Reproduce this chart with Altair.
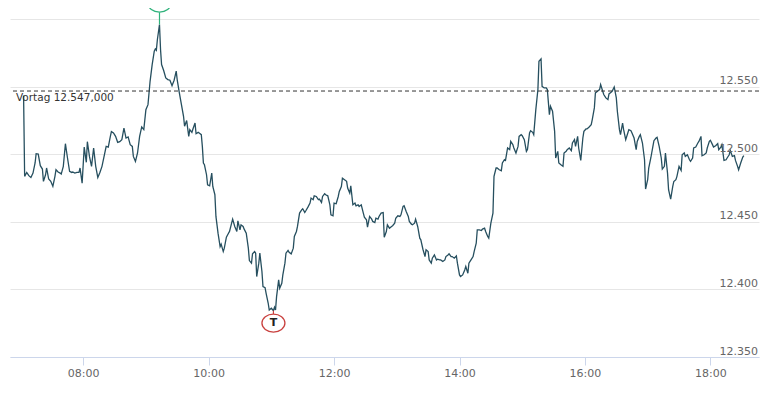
import altair as alt
import pandas as pd

# minutes after 07:00
t_min = [3, 4, 6, 8, 10, 12, 14, 15, 17, 19, 21, 22, 24, 25, 27, 29, 31, 33, 34, 36, 38, 39, 41, 43, 45, 47, 49, 50, 52, 54, 56, 57, 59, 61, 63, 64, 66, 68, 70, 72, 74, 76, 78, 80, 82, 84, 86, 87, 89, 91, 93, 95, 97, 99, 101, 103, 105, 107, 108, 110, 112, 114, 116, 118, 120, 122, 124, 126, 128, 129, 130, 131, 133, 134, 135, 137, 139, 141, 143, 145, 147, 149, 150, 152, 154, 156, 157, 159, 161,
         162, 164, 165, 167, 168, 170, 171, 173, 174, 175, 176, 178, 179, 181, 183, 184, 186, 187, 189, 191, 192, 194, 195, 197, 199, 200, 202, 203, 205, 207, 208, 210, 211, 213, 214, 216, 218, 219, 221, 222, 224, 225, 226, 228, 229, 231, 232, 234, 235, 237, 238, 240, 242, 243, 244, 245, 247, 248, 250, 251, 253, 254, 256, 257, 259, 261, 262, 264, 265, 267, 269, 270, 272, 273, 275, 277, 278, 280, 281, 283, 285, 286, 288, 289, 291, 292, 294, 296, 297, 299, 300, 302, 304, 305, 307, 308, 310, 312, 313, 315, 316, 318, 320, 321, 323, 324, 326, 328, 329, 331, 332,
         334, 336, 337, 339, 340, 342, 343, 345, 347, 348, 350, 351, 353, 355, 356, 358, 359, 361, 363, 364, 366, 367, 369, 371, 372, 374, 375, 377, 378, 380, 382, 383, 385, 387, 388, 390, 391, 393, 394, 396, 398, 399, 401, 402, 404, 406, 407, 409, 410, 412, 413, 415, 417, 418, 420, 421, 423, 425, 426, 428, 429, 431, 433, 434, 436, 437,
         439, 441, 442, 444, 445, 447, 448, 450, 452, 453, 455, 456, 458, 460, 461, 463, 464, 466, 468, 469, 471, 472, 474, 476, 477, 479, 480, 482, 484, 485, 487, 488, 490, 491, 493, 495, 496, 498, 499, 501, 503, 504, 506, 507, 509, 511, 512, 514, 515, 517, 519, 520, 522, 523, 525, 527, 528, 530, 531, 533, 534, 536, 538, 539, 541, 542, 544, 546, 547, 549, 550, 552, 554, 555, 557, 558, 560, 562, 563, 565, 566, 568, 570, 571,
         573, 574, 576, 577, 579, 581, 582, 584, 585, 587, 589, 590, 592, 593, 595, 597, 598, 600, 601, 603, 605, 606, 608, 609, 611, 613, 614, 616, 617, 619, 620, 622, 624, 625, 627, 628, 630, 632, 633, 635, 636, 638, 640, 641, 643, 644, 646, 648, 649, 651, 652, 654, 656, 657, 659, 660, 662, 663, 665, 667, 668, 670, 671, 673, 675, 676, 678, 679, 681, 683, 684, 686, 687, 689, 691, 692]

price = [12543.6, 12483.8, 12486.7, 12484.3, 12483.0, 12486.2, 12493.7, 12500.6, 12500.3, 12491.7, 12489.2, 12480.1, 12485.0, 12490.0, 12481.8, 12480.1, 12476.4, 12483.8, 12488.7, 12487.0, 12486.2, 12485.5, 12491.2, 12508.0, 12497.4, 12487.5, 12486.7, 12487.0, 12486.2, 12486.7, 12486.7, 12490.0, 12478.8, 12505.5, 12494.2, 12509.5, 12498.6, 12491.2, 12504.8, 12491.2, 12483.0, 12486.7, 12491.2, 12498.6, 12506.0, 12505.5, 12513.4, 12516.9, 12515.9, 12513.4, 12509.0, 12509.5, 12511.0, 12519.6, 12512.2, 12513.0, 12507.3, 12506.0, 12498.6, 12494.9, 12501.1, 12513.4, 12520.4, 12518.4, 12533.2, 12536.9, 12554.2, 12566.6, 12576.5, 12578.2, 12577.2, 12585.2, 12596.3, 12577.7, 12566.6, 12562.2, 12556.7, 12555.5, 12555.0, 12551.0, 12555.0, 12561.7, 12555.0, 12545.6, 12536.9, 12528.3, 12520.9, 12525.1, 12513.4,
         12518.4, 12516.4, 12518.9, 12523.3, 12515.4, 12516.4, 12515.9, 12514.7, 12506.0, 12493.7, 12492.4, 12485.0, 12477.6, 12476.8, 12486.2, 12476.3, 12470.2, 12454.1, 12441.7, 12431.8, 12433.6, 12428.1, 12430.6, 12438.8, 12441.7, 12443.0, 12449.1, 12452.1, 12446.7, 12443.0, 12450.9, 12444.2, 12447.9, 12446.7, 12444.7, 12441.7, 12430.6, 12421.4, 12419.5, 12426.4, 12428.1, 12426.9, 12409.6, 12419.5, 12426.9, 12413.3, 12402.2, 12401.4, 12397.2, 12389.8, 12384.8, 12386.1, 12384.3, 12386.8, 12384.8, 12394.7, 12407.1, 12400.9, 12404.6, 12410.8, 12419.5, 12426.9, 12428.9, 12427.6, 12426.4, 12430.6, 12439.3, 12443.0, 12446.7, 12456.6, 12459.0, 12459.8, 12457.1, 12458.3, 12461.0, 12464.0, 12467.7, 12466.5, 12469.4, 12468.9, 12466.5, 12467.0, 12464.5, 12468.9, 12470.9, 12470.2, 12469.4, 12462.7, 12455.3, 12454.6, 12464.0, 12463.5, 12468.9, 12472.6, 12476.3, 12482.5, 12481.3, 12480.1, 12475.1, 12471.4, 12476.8, 12462.7, 12464.0, 12462.0, 12462.7, 12461.5, 12462.7, 12456.6, 12453.6, 12451.6, 12446.2,
         12454.1, 12452.1, 12450.4, 12449.6, 12452.8, 12452.1, 12454.1, 12456.6, 12457.0, 12438.7, 12442.9, 12447.9, 12445.4, 12446.7, 12447.2, 12449.1, 12452.8, 12454.6, 12454.1, 12455.3, 12461.5, 12462.0, 12457.8, 12454.1, 12450.4, 12448.4, 12447.9, 12449.1, 12452.1, 12446.7, 12438.0, 12436.8, 12429.8, 12424.4, 12429.4, 12428.1, 12421.9, 12419.5, 12423.2, 12425.6, 12421.9, 12422.4, 12421.9, 12421.9, 12420.7, 12421.9, 12424.4, 12425.6, 12426.4, 12424.4, 12424.4, 12423.2, 12424.9, 12419.5, 12410.8, 12409.6, 12410.8, 12414.5, 12417.0, 12412.0, 12419.5, 12421.9, 12424.4, 12428.1, 12434.3, 12444.2,
         12444.2, 12443.7, 12444.7, 12445.4, 12443.0, 12439.3, 12438.0, 12449.1, 12456.6, 12483.8, 12490.0, 12490.0, 12488.7, 12488.0, 12493.7, 12496.1, 12495.6, 12504.8, 12503.6, 12509.7, 12507.3, 12504.8, 12501.1, 12506.0, 12513.4, 12514.7, 12513.9, 12511.0, 12502.3, 12503.6, 12515.9, 12517.6, 12516.4, 12514.7, 12533.2, 12548.1, 12569.1, 12570.8, 12550.5, 12549.3, 12549.3, 12548.1, 12529.5, 12535.7, 12532.0, 12517.1, 12497.4, 12502.3, 12493.7, 12492.4, 12491.2, 12501.1, 12502.3, 12503.6, 12504.8, 12502.8, 12508.5, 12511.0, 12506.0, 12513.4, 12504.8, 12495.6, 12512.2, 12517.1, 12518.9, 12518.9, 12520.4, 12522.1, 12525.8, 12534.5, 12545.6, 12546.8, 12548.1, 12551.8, 12546.8, 12544.4, 12541.9, 12540.7, 12544.9, 12546.1, 12546.8, 12550.0, 12541.9, 12532.0,
         12518.4, 12514.7, 12523.3, 12518.4, 12511.0, 12515.9, 12518.4, 12517.6, 12515.9, 12512.2, 12503.5, 12509.7, 12513.4, 12514.7, 12508.5, 12496.1, 12474.4, 12481.3, 12489.9, 12497.4, 12506.0, 12510.2, 12512.2, 12512.7, 12506.0, 12497.4, 12489.2, 12491.2, 12501.1, 12486.2, 12473.9, 12466.9, 12476.3, 12480.0, 12481.3, 12483.8, 12491.2, 12488.2, 12499.8, 12501.1, 12498.6, 12499.8, 12496.1, 12494.9, 12497.4, 12504.8, 12505.5, 12508.5, 12509.7, 12513.4, 12499.1, 12499.8, 12501.1, 12504.8, 12509.7, 12510.5, 12507.3, 12505.5, 12506.5, 12508.0, 12503.5, 12505.5, 12507.3, 12495.6, 12496.1, 12497.4, 12499.8, 12503.1, 12498.6, 12499.1, 12495.6, 12491.2, 12488.7, 12493.7, 12498.1, 12499.1]

prev_close = 12547
y_grid = [12350, 12400, 12450, 12500, 12550, 12600]
y_labeled = [12350, 12400, 12450, 12500, 12550]
x_ticks = [480, 600, 720, 840, 960, 1080]  # minutes of day: 08:00 ... 18:00

W, H = 749, 349
XDOM = [410, 1126.5]
YDOM = [12350, 12608.5]
FONT = "DejaVu Sans"
ELLIPSE = "M-1,0A1,0.78,0,1,1,1,0A1,0.78,0,1,1,-1,0Z"

df = pd.DataFrame({"t": [420 + m for m in t_min], "p": price})
hi = df.loc[[df.p.idxmax()]].assign(lab="H")
lo = df.loc[[df.p.idxmin()]].assign(lab="T")

xs = alt.Scale(domain=XDOM, nice=False, zero=False)
ys = alt.Scale(domain=YDOM, nice=False, zero=False)

X = alt.X("t:Q", scale=xs, axis=alt.Axis(
    values=x_ticks, title=None, grid=False,
    labelExpr="pad(toString(floor(datum.value/60)),2,'0','left') + ':' + pad(toString(datum.value%60),2,'0','left')",
    domainColor="#ccd6eb", tickColor="#ccd6eb", tickSize=8, domainWidth=1,
    labelColor="#666666", labelFont=FONT, labelFontSize=11, labelPadding=2))
Y = alt.Y("p:Q", scale=ys, axis=alt.Axis(
    values=y_grid, title=None, labels=False, ticks=False, domain=False,
    grid=True, gridColor="#e6e6e6", gridWidth=1))

line = alt.Chart(df).mark_line(color="#264f5f", strokeWidth=1.3).encode(x=X, y=Y)

prev_df = pd.DataFrame({"p": [prev_close], "txt": ["Vortag 12.547,000"]})
prev_rule = alt.Chart(prev_df).mark_rule(color="#333333", strokeWidth=1, strokeDash=[4, 3]).encode(
    y=alt.Y("p:Q", scale=ys))
prev_text = alt.Chart(prev_df).mark_text(align="left", baseline="alphabetic", dy=10,
                                         font=FONT, fontSize=10.5, color="#333333").encode(
    x=alt.value(6), y=alt.Y("p:Q", scale=ys), text="txt:N")

ylab_df = pd.DataFrame({"p": y_labeled,
                        "txt": [f"{v:,}".replace(",", ".") for v in y_labeled]})
ylabels = alt.Chart(ylab_df).mark_text(align="right", baseline="alphabetic", dy=-2.5,
                                       font=FONT, fontSize=11, color="#666666").encode(
    x=alt.value(W - 1), y=alt.Y("p:Q", scale=ys), text="txt:N")

GREEN = "#2fb27b"
RED = "#c9413f"

def marker(d, color, stem_len, stem_dir, center_off):
    base = alt.Chart(d).encode(x=alt.X("t:Q", scale=xs), y=alt.Y("p:Q", scale=ys))
    stem = base.mark_tick(orient="vertical", size=stem_len, thickness=1.2, color=color,
                          yOffset=stem_dir * stem_len / 2, opacity=1)
    ell = base.mark_point(shape=ELLIPSE, size=529, filled=True, fill="white", stroke=color,
                          strokeWidth=1.3, opacity=1, yOffset=center_off)
    txt = base.mark_text(font=FONT, fontSize=11, fontWeight="bold", color="#222222",
                         baseline="middle", align="center", dy=center_off).encode(text="lab:N")
    return stem + ell + txt

hmark = marker(hi, GREEN, 12.3, -1, -21.3)
tmark = marker(lo, RED, 4, 1, 12.4)

chart = alt.layer(line, prev_rule, prev_text, ylabels, hmark, tmark).properties(
    width=W, height=H,
    autosize=alt.AutoSizeParams(type="none"),
    padding={"left": 2, "top": 0, "right": 1, "bottom": 26},
    background="white",
).configure_view(strokeWidth=0)

chart.save("out.html", embed_options={"renderer": "svg", "actions": False})
